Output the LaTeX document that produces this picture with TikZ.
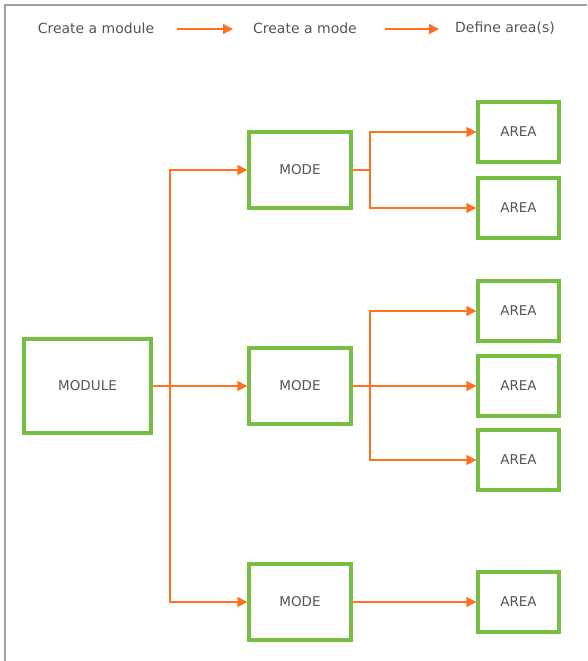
\documentclass[tikz,border=0pt]{standalone}
\usepackage{fontspec}
\setmainfont{DejaVu Sans}
\usetikzlibrary{arrows.meta}
\definecolor{boxgreen}{HTML}{76BE42}
\definecolor{arrorange}{HTML}{FF7020}
\definecolor{txtgray}{HTML}{555555}
\definecolor{framegray}{HTML}{A0A0A0}
\begin{document}
\begin{tikzpicture}[x=1pt,y=-1pt,
  box/.style={draw=boxgreen,line width=3.4pt,fill=white,text=txtgray,font=\fontsize{13.5}{15}\selectfont,inner sep=0pt},
  conn/.style={draw=arrorange,line width=1.6pt,-{Triangle[length=10pt,width=10pt]}},
  seg/.style={draw=arrorange,line width=1.6pt},
  lbl/.style={text=txtgray,font=\fontsize{14}{16}\selectfont}]
\useasboundingbox (0,0) rectangle (587,661);
\draw[framegray,line width=1.2pt] (5,661) -- (5,5) -- (587,5);
% header
\node[lbl] (h1) at (96,28) {Create a module};
\node[lbl] (h2) at (305,28) {Create a mode};
\node[lbl] (h3) at (505,28) {Define area(s)};
\coordinate (a1s) at (177,29); \coordinate (a1e) at (233,29);
\coordinate (a2s) at (385,29); \coordinate (a2e) at (439,29);
\draw[conn] (a1s) -- (a1e);
\draw[conn] (a2s) -- (a2e);
% boxes
\node[box,minimum width=127pt,minimum height=94pt] (mod) at (87.5,386) {MODULE};
\node[box,minimum width=102pt,minimum height=76pt] (m1) at (300,170) {MODE};
\node[box,minimum width=102pt,minimum height=76pt] (m2) at (300,386) {MODE};
\node[box,minimum width=102pt,minimum height=76pt] (m3) at (300,602) {MODE};
\node[box,minimum width=81pt,minimum height=60pt] (ar1) at (518.5,132) {AREA};
\node[box,minimum width=81pt,minimum height=60pt] (ar2) at (518.5,208) {AREA};
\node[box,minimum width=81pt,minimum height=60pt] (ar3) at (518.5,311) {AREA};
\node[box,minimum width=81pt,minimum height=60pt] (ar4) at (518.5,386) {AREA};
\node[box,minimum width=81pt,minimum height=60pt] (ar5) at (518.5,460) {AREA};
\node[box,minimum width=81pt,minimum height=60pt] (ar6) at (518.5,602) {AREA};
% module to modes
\coordinate (b0) at (170,386);
\draw[seg] (mod.east) -- (b0);
\draw[conn] (b0) |- (m1.west);
\draw[conn] (b0) -- (m2.west);
\draw[conn] (b0) |- (m3.west);
% mode 1 to areas
\coordinate (b1) at (370,170);
\draw[seg] (m1.east) -- (b1);
\draw[conn] (b1) |- (ar1.west);
\draw[conn] (b1) |- (ar2.west);
% mode 2 to areas
\coordinate (b2) at (370,386);
\draw[seg] (m2.east) -- (b2);
\draw[conn] (b2) |- (ar3.west);
\draw[conn] (b2) -- (ar4.west);
\draw[conn] (b2) |- (ar5.west);
% mode 3 to area
\draw[conn] (m3.east) -- (ar6.west);
\end{tikzpicture}
\end{document}
